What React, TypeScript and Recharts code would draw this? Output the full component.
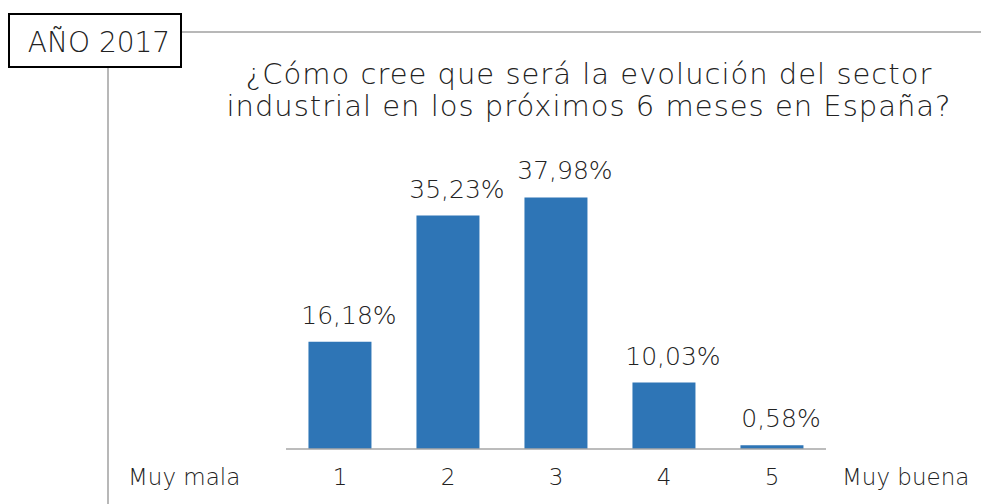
import { BarChart, Bar, XAxis, YAxis, LabelList } from "recharts";

const categories = ["1", "2", "3", "4", "5"];
const values = [16.18, 35.23, 37.98, 10.03, 0.58];
const yTicks = [0, 10, 20, 30, 40];
const titleLines = [
  "¿Cómo cree que será la evolución del sector",
  "industrial en los próximos 6 meses en España?",
];
const endLabels = ["Muy mala", "Muy buena"];

const data = categories.map((c, i) => ({ cat: c, value: values[i] }));

const fmt = (v: number) => v.toFixed(2).replace(".", ",") + "%";

const LIGHT = "'DejaVu Sans', sans-serif";
const W = 200;

export default function App() {
  return (
    <div style={{ position: "absolute", left: 0, top: 0, width: 981, height: 504, background: "#fff" }}>
      <svg width={981} height={504} style={{ position: "absolute", left: 0, top: 0 }}>
        <line x1={181} y1={32} x2={981} y2={32} stroke="#a0a0a0" strokeWidth={1.5} />
        <line x1={108} y1={67} x2={108} y2={504} stroke="#a0a0a0" strokeWidth={1.5} />
        <rect x={9} y={14} width={172} height={53} fill="#fff" stroke="#000" strokeWidth={2} />
        <text x={99} y={52} textAnchor="middle" fontFamily={LIGHT} fontWeight={W} fontSize={28} fill="#222">
          AÑO 2017
        </text>
        {titleLines.map((t, i) => (
          <text key={i} x={589} y={84 + i * 32} textAnchor="middle" fontFamily={LIGHT} fontWeight={W} fontSize={29} letterSpacing={1} fill="#222">
            {t}
          </text>
        ))}
        <text x={128} y={485} fontFamily={LIGHT} fontWeight={W} fontSize={23} fill="#222">{endLabels[0]}</text>
        <text x={842} y={485} fontFamily={LIGHT} fontWeight={W} fontSize={23} fill="#222">{endLabels[1]}</text>
      </svg>
      <div style={{ position: "absolute", left: 0, top: 0 }}>
        <BarChart
          width={981}
          height={504}
          data={data}
          barCategoryGap="20.8%"
          margin={{ top: 184, right: 155, bottom: 0, left: 286 }}
        >
          <YAxis type="number" domain={[0, 40]} ticks={yTicks} width={0} tick={false} tickLine={false} axisLine={{ stroke: "#a6a6a6", strokeWidth: 1.5 }} />
          <XAxis
            dataKey="cat"
            height={55}
            tickLine={false}
            axisLine={{ stroke: "#a6a6a6", strokeWidth: 1.5 }}
            tick={{ fill: "#222", fontSize: 23, fontFamily: LIGHT, fontWeight: W }}
            tickMargin={14}
            interval={0}
          />
          <Bar dataKey="value" fill="#2E75B6" isAnimationActive={false}>
            <LabelList
              dataKey="value"
              position="top"
              offset={18}
              dx={9}
              formatter={(v: any) => fmt(Number(v))}
              style={{ fill: "#222", fontSize: 25, fontFamily: LIGHT, fontWeight: W }}
            />
          </Bar>
        </BarChart>
      </div>
    </div>
  );
}
